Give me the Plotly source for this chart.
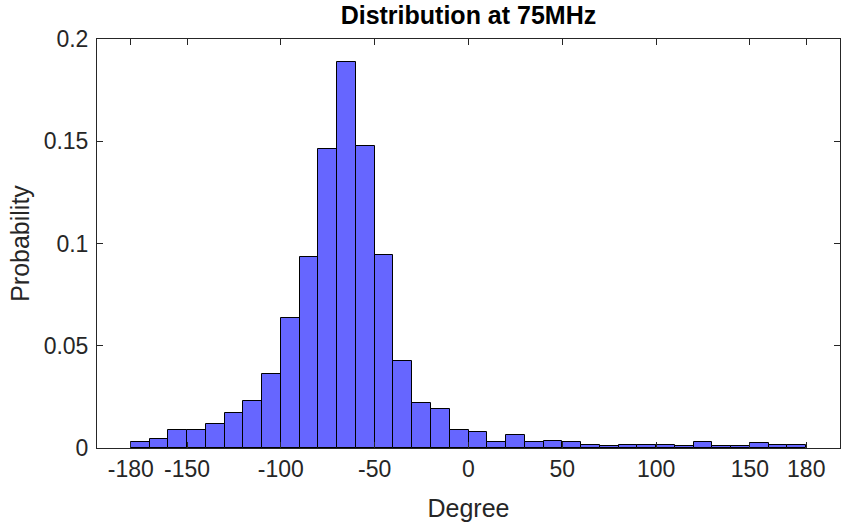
import plotly.graph_objects as go

# Histogram bin left edges (degrees), bin width 10
bin_left = [-180, -170, -160, -150, -140, -130, -120, -110, -100, -90,
            -80, -70, -60, -50, -40, -30, -20, -10, 0, 10,
            20, 30, 40, 50, 60, 70, 80, 90, 100, 110,
            120, 130, 140, 150, 160, 170]
bin_width = 10
probability = [0.0031, 0.0042, 0.0090, 0.0090, 0.0115, 0.0171, 0.0229, 0.0364, 0.0637, 0.0936,
               0.1460, 0.1890, 0.1477, 0.0944, 0.0424, 0.0219, 0.0193, 0.0090, 0.0078, 0.0029,
               0.0063, 0.0029, 0.0036, 0.0029, 0.0017, 0.0010, 0.0017, 0.0017, 0.0017, 0.0010,
               0.0031, 0.0010, 0.0010, 0.0026, 0.0017, 0.0017]

x_ticks = [-180, -150, -100, -50, 0, 50, 100, 150, 180]
x_ticktext = ["-180", "-150", "-100", "-50", "0", "50", "100", "150", "180"]
y_ticks = [0, 0.05, 0.1, 0.15, 0.2]
y_ticktext = ["0", "0.05", "0.1", "0.15", "0.2"]

centers = [b + bin_width / 2 for b in bin_left]

fig = go.Figure()
fig.add_trace(go.Bar(
    x=centers, y=probability, width=bin_width,
    marker=dict(color="#6666FF", line=dict(color="#000000", width=1)),
    showlegend=False,
))

axis_color = "#262626"
font_family = "Liberation Sans, Arial, Helvetica, sans-serif"

fig.update_layout(
    width=841, height=525,
    margin=dict(l=97, r=1, t=39, b=77),
    paper_bgcolor="white", plot_bgcolor="white",
    bargap=0,
    font=dict(family=font_family, size=23, color=axis_color),
    title=dict(text="<b>Distribution at 75MHz</b>", x=0.557, xanchor="center",
               y=0.987, yanchor="top",
               font=dict(family=font_family, size=25, color="#000000")),
    xaxis=dict(
        range=[-198, 198], tickvals=x_ticks, ticktext=x_ticktext,
        ticks="inside", ticklen=6, tickcolor=axis_color, tickwidth=1,
        showline=True, linecolor=axis_color, linewidth=1, mirror="ticks",
        showgrid=False, zeroline=False,
        tickfont=dict(size=23, color=axis_color),
        title=dict(text="Degree", font=dict(size=25, color=axis_color), standoff=18),
    ),
    yaxis=dict(
        range=[0, 0.2], tickvals=y_ticks, ticktext=y_ticktext,
        ticks="inside", ticklen=6, tickcolor=axis_color, tickwidth=1,
        showline=True, linecolor=axis_color, linewidth=1, mirror="ticks",
        showgrid=False, zeroline=False,
        tickfont=dict(size=23, color=axis_color),
        ticklabelstandoff=3,
        title=dict(text="Probability", font=dict(size=25, color=axis_color), standoff=6),
    ),
)

fig.write_html("out.html")
